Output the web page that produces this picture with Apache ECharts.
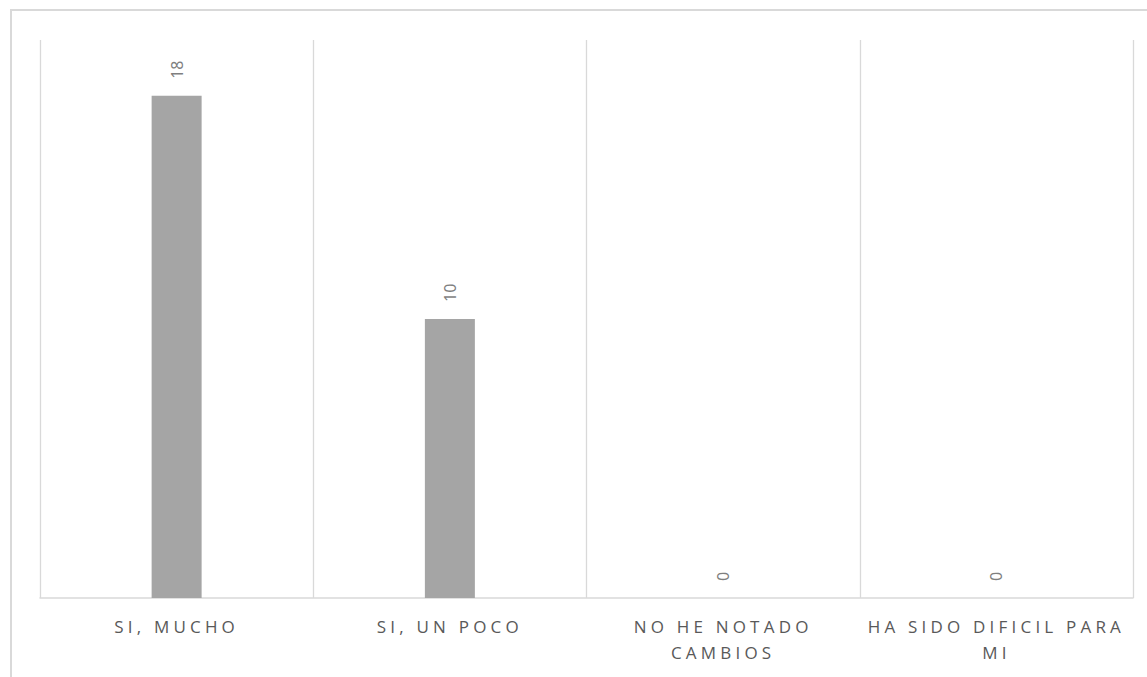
<!DOCTYPE html>
<html>
<head>
<meta charset="utf-8">
<script src="https://cdn.jsdelivr.net/npm/echarts@6/dist/echarts.min.js"></script>
<style>
html, body { margin: 0; padding: 0; background: #fff; overflow: hidden; }
#main { width: 1147px; height: 677px; }
/* 类目标签字距 */
#main text[fill="#595959"] { letter-spacing: 4.2px; }
</style>
</head>
<body>
<div id="main"></div>
<script>
// 数据
const categories = ['SI, MUCHO', 'SI, UN POCO', 'NO HE NOTADO\nCAMBIOS', 'HA SIDO DIFICIL PARA\nMI'];
const values = [18, 10, 0, 0];
const yMin = 0;
const yMax = 20;

const chart = echarts.init(document.getElementById('main'), null, { renderer: 'svg' });

chart.setOption({
  animation: false,
  grid: {
    left: 40,
    right: 14,
    top: 40,
    bottom: 79,
    outerBoundsMode: 'none'
  },
  graphic: [{
    type: 'rect',
    silent: true,
    z: -10,
    shape: { x: 11, y: 10, width: 1170, height: 720 },
    style: { fill: 'none', stroke: '#d9d9d9', lineWidth: 2 }
  }],
  xAxis: {
    type: 'category',
    data: categories,
    axisLine: {
      show: true,
      lineStyle: { color: '#d9d9d9', width: 1.5 }
    },
    axisTick: { show: false },
    splitLine: {
      show: true,
      lineStyle: { color: '#d9d9d9', width: 1.3 }
    },
    axisLabel: {
      interval: 0,
      color: '#595959',
      fontSize: 17,
      fontFamily: 'Open Sans',
      lineHeight: 26,
      margin: 15
    }
  },
  yAxis: {
    type: 'value',
    min: yMin,
    max: yMax,
    show: false,
    splitLine: { show: false }
  },
  series: [{
    type: 'bar',
    data: values,
    barWidth: 50,
    itemStyle: { color: '#a5a5a5' },
    label: {
      show: true,
      position: 'top',
      rotate: 90,
      align: 'left',
      verticalAlign: 'middle',
      distance: 17,
      color: '#7f7f7f',
      fontSize: 16,
      fontFamily: 'Noto Sans'
    }
  }]
});
</script>
</body>
</html>
